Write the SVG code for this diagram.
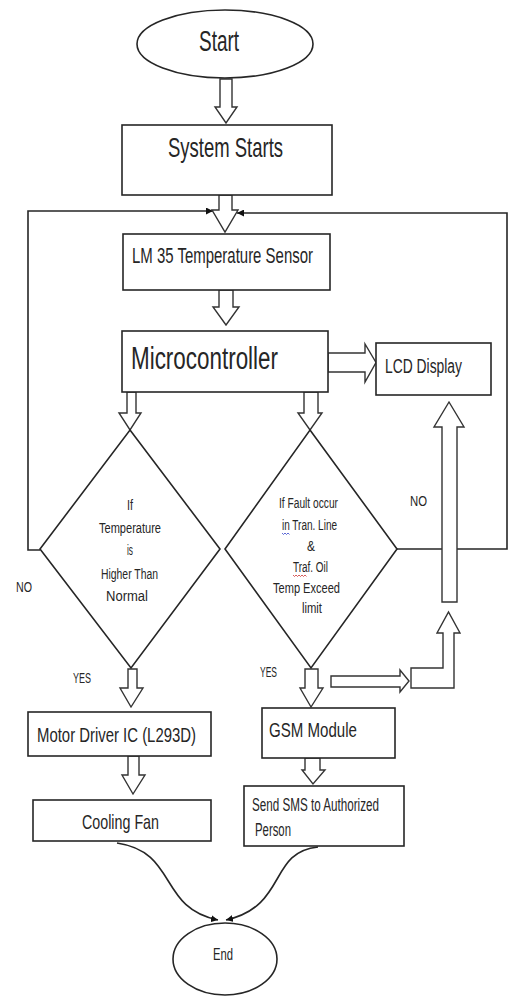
<svg xmlns="http://www.w3.org/2000/svg" width="509" height="996" viewBox="0 0 509 996">
<style>
  .box{fill:#fff;stroke:#262626;stroke-width:1.6}
  .blk{fill:#fff;stroke:#333;stroke-width:1.4;stroke-linejoin:miter}
  .ln{fill:none;stroke:#262626;stroke-width:1.6}
  text{font-family:"Liberation Sans",Arial,sans-serif;fill:#262626}
  .d{font-size:14px;text-anchor:start}
  .lbl{font-size:14px}
</style>
<defs>
  <marker id="ah" viewBox="0 0 10 10" refX="10" refY="5" markerWidth="7" markerHeight="7" orient="auto" markerUnits="userSpaceOnUse">
    <path d="M0,0 L10,5 L0,10 z" fill="#111"/>
  </marker>
</defs>
<rect width="509" height="996" fill="#fff"/>

<g id="connectors">
  <polyline class="ln" points="40,550 28,550 28,211 213,211" marker-end="url(#ah)"/>
  <polyline class="ln" points="397,549 507,549 507,213 237,213" marker-end="url(#ah)"/>
  <polygon class="blk" points="220,79 232,79 232,107 237,107 226,123 215,107 220,107"/>
  <polygon class="blk" points="219,195 232,195 232,210 238,210 225,232 212,210 219,210"/>
  <polygon class="blk" points="219,290 233,290 233,307 239,307 226,325 213,307 219,307"/>
  <polygon class="blk" points="328,353 365,353 365,344 376,362.5 365,382 365,372 328,372"/>
  <polygon class="blk" points="127,392 136,392 136,413 141,413 130,430 119,413 127,413"/>
  <polygon class="blk" points="304,392 318,392 318,413 322,413 310,430 298,413 304,413"/>
  <polygon class="blk" points="128,669 137,669 137,688 143,688 131,707 120,688 128,688"/>
  <polygon class="blk" points="305,669 318,669 318,688 323,688 311,707 300,688 305,688"/>
  <polygon class="blk" points="128,756 139,756 139,775 145,775 133,794 122,775 128,775"/>
  <polygon class="blk" points="305,758 320,758 320,770 325,770 313,784 302,770 305,770"/>
  <polygon class="blk" points="331,676 400,676 400,670 409,681 400,692 400,687 331,687"/>
  <polygon class="blk" points="411,668 443,668 443,633 437,633 448.5,612 460,633 454,633 454,688 411,688"/>
  <polygon class="blk" points="442,602 442,427 434,427 449,402 464,427 457,427 457,602"/>
  <path class="ln" d="M117,843 C178,852 158,908 218,920" marker-end="url(#ah)"/>
  <path class="ln" d="M318,847 C268,852 288,906 226,920" marker-end="url(#ah)"/>
</g>

<g id="start">
  <ellipse class="box" cx="225" cy="44" rx="88" ry="34"/>
  <text x="199" y="51" font-size="29" textLength="40" lengthAdjust="spacingAndGlyphs">Start</text>
</g>
<g id="system-starts">
  <rect class="box" x="122" y="125" width="210" height="70"/>
  <text x="168" y="157" font-size="28" textLength="115" lengthAdjust="spacingAndGlyphs">System Starts</text>
</g>
<g id="lm35">
  <rect class="box" x="123" y="234" width="207" height="56"/>
  <text x="132" y="263" font-size="22" textLength="181" lengthAdjust="spacingAndGlyphs">LM 35 Temperature Sensor</text>
</g>
<g id="microcontroller">
  <rect class="box" x="122" y="331" width="206" height="61"/>
  <text x="131" y="369" font-size="31" textLength="147" lengthAdjust="spacingAndGlyphs">Microcontroller</text>
</g>
<g id="lcd">
  <rect class="box" x="376" y="343" width="115" height="52"/>
  <text x="385" y="373" font-size="20" textLength="77" lengthAdjust="spacingAndGlyphs">LCD Display</text>
</g>
<g id="decision-temp">
  <polygon class="box" points="130,430 220,549 131,668 40,549"/>
  <text class="d" x="127" y="510" textLength="6" lengthAdjust="spacingAndGlyphs">If</text>
  <text class="d" x="99" y="533" textLength="62" lengthAdjust="spacingAndGlyphs">Temperature</text>
  <text class="d" x="127" y="555" textLength="6" lengthAdjust="spacingAndGlyphs">is</text>
  <text class="d" x="101" y="579" textLength="57" lengthAdjust="spacingAndGlyphs">Higher Than</text>
  <text class="d" x="106" y="601" textLength="42" lengthAdjust="spacingAndGlyphs">Normal</text>
</g>
<g id="decision-fault">
  <polygon class="box" points="310,430 397,549 311,668 225,549"/>
  <text class="d" x="279" y="508" textLength="59" lengthAdjust="spacingAndGlyphs">If Fault occur</text>
  <text class="d" x="282" y="530" textLength="55" lengthAdjust="spacingAndGlyphs">in Tran. Line</text>
  <text class="d" x="307" y="551" textLength="8" lengthAdjust="spacingAndGlyphs">&amp;</text>
  <text class="d" x="293" y="572" textLength="35" lengthAdjust="spacingAndGlyphs">Traf. Oil</text>
  <text class="d" x="273" y="593" textLength="67" lengthAdjust="spacingAndGlyphs">Temp Exceed</text>
  <text class="d" x="302" y="613" textLength="20" lengthAdjust="spacingAndGlyphs">limit</text>
  <path d="M282,533 l1.5,1.5 l1.5,-1.5 l1.5,1.5 l1.5,-1.5 l1.5,1.5" fill="none" stroke="#3344cc" stroke-width="0.8"/>
  <path d="M293,575 l1.5,1.5 l1.5,-1.5 l1.5,1.5 l1.5,-1.5 l1.5,1.5 l1.5,-1.5 l1.5,1.5 l1.5,-1.5 l1.5,1.5" fill="none" stroke="#cc3333" stroke-width="0.8"/>
</g>
<g id="labels">
  <text class="lbl" x="410" y="506" textLength="17" lengthAdjust="spacingAndGlyphs">NO</text>
  <text class="lbl" x="16" y="592" textLength="16" lengthAdjust="spacingAndGlyphs">NO</text>
  <text class="lbl" x="73" y="683" textLength="18" lengthAdjust="spacingAndGlyphs">YES</text>
  <text class="lbl" x="260" y="677" textLength="17" lengthAdjust="spacingAndGlyphs">YES</text>
</g>
<g id="motor-driver">
  <rect class="box" x="28" y="712" width="183" height="44"/>
  <text x="37" y="742" font-size="21" textLength="159" lengthAdjust="spacingAndGlyphs">Motor Driver IC (L293D)</text>
</g>
<g id="cooling-fan">
  <rect class="box" x="33" y="800" width="178" height="41"/>
  <text x="82" y="829" font-size="21" textLength="77" lengthAdjust="spacingAndGlyphs">Cooling Fan</text>
</g>
<g id="gsm">
  <rect class="box" x="262" y="708" width="133" height="50"/>
  <text x="269" y="737" font-size="21" textLength="88" lengthAdjust="spacingAndGlyphs">GSM Module</text>
</g>
<g id="sms">
  <rect class="box" x="244" y="786" width="160" height="60"/>
  <text x="252" y="811" font-size="18" textLength="127" lengthAdjust="spacingAndGlyphs">Send SMS to Authorized</text>
  <text x="255" y="836" font-size="18" textLength="36" lengthAdjust="spacingAndGlyphs">Person</text>
</g>
<g id="end">
  <ellipse class="box" cx="225" cy="959" rx="52" ry="36"/>
  <text x="213" y="960" font-size="16" textLength="20" lengthAdjust="spacingAndGlyphs">End</text>
</g>
</svg>
